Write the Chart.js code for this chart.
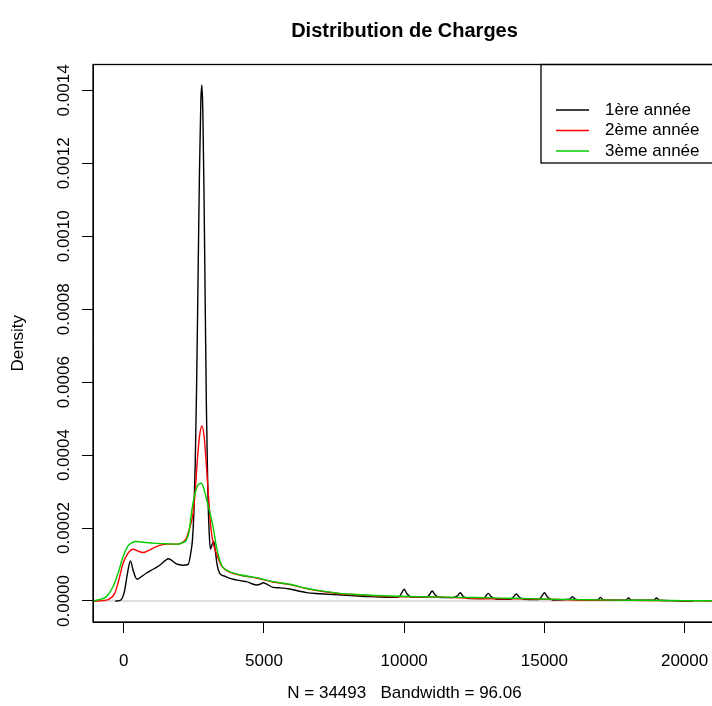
<!DOCTYPE html>
<html>
<head>
<meta charset="utf-8" />
<title>Distribution de Charges</title>
<style>
  body { margin: 0; overflow: hidden; background: #fff; }
  #wrap { width: 720px; height: 706px; }
</style>
<script src="https://cdn.jsdelivr.net/npm/chart.js"></script>
</head>
<body>
<div id="wrap"><canvas id="chartDensity" width="720" height="706"></canvas></div>
<script>
// series (charges -> density)
const seriesNames = ['1ère année', '2ème année', '3ème année'];
const seriesColors = ['#000000', '#FF0000', '#00CD00'];

const charges1 = [-300, -150, -50, 36, 100, 155, 239, 333, 420, 488, 600, 800, 1000, 1166, 1350, 1500, 1582, 1700, 1850, 1939, 2100, 2296, 2400, 2450, 2500, 2550, 2600, 2650, 2700, 2750, 2785, 2820, 2860, 2900, 2950, 3000, 3050, 3093, 3150, 3211, 3270, 3330, 3425, 3600, 3782, 4000, 4200, 4377, 4550, 4734, 4860, 4971, 5100, 5328, 5600, 5922, 6200, 6517, 7000, 7706, 8500, 9490, 9800, 9900, 10000, 10100, 10250, 10500, 10800, 10900, 11000, 11100, 11300, 11700, 11900, 12000, 12100, 12300, 12800, 12900, 13000, 13100, 13300, 13800, 13900, 14000, 14100, 14300, 14800, 14900, 15000, 15100, 15300, 15900, 16000, 16100, 16400, 16900, 17000, 17100, 17900, 18000, 18100, 18900, 19000, 19100, 19500, 20000, 20300];
const density1 = [0, 0.000001, 0.000008, 0.00003, 0.00006, 0.000085, 0.00011, 0.000085, 0.000065, 0.0000595, 0.000065, 0.000076, 0.000085, 0.000092, 0.000102, 0.000112, 0.000116, 0.000112, 0.000103, 0.0001005, 0.000098, 0.0001, 0.000136, 0.000167, 0.000238, 0.000374, 0.000593, 0.000878, 0.00117, 0.00137, 0.001415, 0.00135, 0.00114, 0.00086, 0.000525, 0.0003, 0.000185, 0.000142, 0.000155, 0.000163, 0.000135, 0.0001, 0.000076, 0.000068, 0.000062, 0.000058, 0.000055, 0.000053, 0.000048, 0.000044, 0.000046, 0.00005, 0.000046, 0.0000375, 0.000036, 0.000033, 0.000028, 0.000023, 0.00002, 0.0000165, 0.000013, 0.00001, 0.000011, 0.00002, 0.000032, 0.00002, 0.000011, 0.000011, 0.00001, 0.000017, 0.0000274, 0.000017, 0.0000095, 0.0000092, 0.000014, 0.0000228, 0.000013, 0.0000065, 0.0000064, 0.000012, 0.000021, 0.000012, 0.0000048, 0.0000046, 0.000011, 0.0000192, 0.000011, 0.0000045, 0.000004, 0.000012, 0.0000228, 0.000012, 0.0000027, 0.000005, 0.0000118, 0.000005, 0.000002, 0.000003, 0.00001, 0.000003, 0.000002, 0.0000082, 0.000002, 0.000002, 0.0000082, 0.000002, 0.000001, 0, 0];

const charges2 = [-1100, -900, -737, -500, -321, -200, -24, 155, 333, 500, 690, 900, 1166, 1522, 1940, 2100, 2235, 2350, 2473, 2550, 2620, 2700, 2790, 2870, 2950, 3030, 3110, 3187, 3306, 3484, 3662, 4138, 4734, 5328, 5922, 6517, 7111, 7706, 8300, 9490, 10500, 11500, 12500, 13500, 14500, 15500, 16500, 17500, 18500, 19500, 20500, 21200];
const density2 = [0, 0, 0.000001, 0.000006, 0.000021, 0.00005, 0.000103, 0.000131, 0.000142, 0.000137, 0.000133, 0.000139, 0.000149, 0.000156, 0.000156, 0.000161, 0.000172, 0.0002, 0.00024, 0.0003, 0.00038, 0.00045, 0.00048, 0.00045, 0.00037, 0.00028, 0.0002, 0.00016, 0.00013, 0.000097, 0.000084, 0.000071, 0.000063, 0.000052, 0.000045, 0.000034, 0.000026, 0.00002, 0.000017, 0.000012, 0.000011, 0.00001, 0.000007, 0.000006, 0.0000055, 0.000004, 0.000002, 0.000002, 0.0000015, 0.000001, 0.0000005, 0];

const charges3 = [-1100, -975, -618, -381, -202, -24, 155, 300, 452, 700, 1000, 1166, 1500, 1940, 2100, 2235, 2330, 2414, 2500, 2600, 2700, 2771, 2850, 2950, 3050, 3187, 3306, 3484, 3662, 4138, 4734, 5328, 5922, 6517, 7111, 7706, 8300, 9490, 10500, 11500, 12500, 13500, 14500, 15500, 16500, 17500, 18500, 19500, 20500, 21200];
const density3 = [0, 0.000002, 0.000012, 0.000039, 0.000076, 0.000121, 0.000151, 0.00016, 0.000163, 0.000161, 0.000159, 0.000158, 0.000157, 0.000156, 0.00016, 0.000167, 0.00019, 0.00024, 0.00028, 0.00031, 0.000322, 0.000323, 0.00031, 0.00028, 0.00025, 0.000204, 0.000149, 0.0000987, 0.000085, 0.000072, 0.000064, 0.000053, 0.000046, 0.000035, 0.000027, 0.000021, 0.000018, 0.0000137, 0.000012, 0.0000105, 0.0000095, 0.000008, 0.0000065, 0.0000045, 0.0000035, 0.0000025, 0.000002, 0.0000015, 0.0000008, 0.0000005];

const xTicks = [0, 5000, 10000, 15000, 20000];
const yTicks = [0, 0.0002, 0.0004, 0.0006, 0.0008, 0.0010, 0.0012, 0.0014];

const FONT = '"Liberation Sans", Arial, Helvetica, sans-serif';

function toPoints(xs, ys) {
    return xs.map((x, i) => ({ x: x, y: ys[i] }));
}

// R-style frame, zero line, rotated y labels, title and legend
const rFrame = {
    id: 'rFrame',
    beforeDatasetsDraw(chart) {
        const { ctx, chartArea: a, scales: { y } } = chart;
        const y0 = y.getPixelForValue(0);
        ctx.save();
        ctx.strokeStyle = '#BEBEBE';
        ctx.lineWidth = 1;
        ctx.beginPath();
        ctx.moveTo(a.left, y0);
        ctx.lineTo(a.right, y0);
        ctx.stroke();
        ctx.restore();
    },
    afterDraw(chart) {
        const { ctx, chartArea: a, scales: { y } } = chart;
        ctx.save();
        ctx.strokeStyle = '#000';
        ctx.lineWidth = 1.3;
        ctx.strokeRect(a.left, a.top, a.right - a.left, a.bottom - a.top);

        // y tick labels, parallel to the axis
        ctx.fillStyle = '#000';
        ctx.font = '17px ' + FONT;
        ctx.textAlign = 'center';
        ctx.textBaseline = 'middle';
        yTicks.forEach(v => {
            ctx.save();
            ctx.translate(64, y.getPixelForValue(v));
            ctx.rotate(-Math.PI / 2);
            ctx.fillText(v.toFixed(4), 0, 0);
            ctx.restore();
        });

        // main title
        ctx.font = 'bold 20px ' + FONT;
        ctx.fillText('Distribution de Charges', (a.left + a.right) / 2, 31);

        // legend, top right
        const lx = 541, lb = 163;
        ctx.strokeRect(lx, a.top, a.right - lx, lb - a.top);
        ctx.font = '17px ' + FONT;
        ctx.textAlign = 'left';
        const rows = [110, 130.5, 151];
        seriesNames.forEach((name, i) => {
            ctx.strokeStyle = seriesColors[i];
            ctx.lineWidth = 1.4;
            ctx.beginPath();
            ctx.moveTo(556, rows[i]);
            ctx.lineTo(589, rows[i]);
            ctx.stroke();
            ctx.fillText(name, 605, rows[i]);
        });
        ctx.restore();
    }
};

const allCharges = [charges1, charges2, charges3];
const allDensity = [density1, density2, density3];

new Chart(document.getElementById('chartDensity'), {
    type: 'line',
    data: {
        datasets: seriesNames.map((name, i) => ({
            label: name,
            data: toPoints(allCharges[i], allDensity[i]),
            borderColor: seriesColors[i],
            borderWidth: 1.4,
            pointRadius: 0,
            cubicInterpolationMode: 'monotone',
            fill: false,
            order: 3 - i
        }))
    },
    options: {
        responsive: false,
        animation: false,
        layout: { padding: { left: 0, top: 64.5, right: 4, bottom: 0 } },
        scales: {
            x: {
                type: 'linear',
                min: -1095,
                max: 21120,
                afterBuildTicks: s => { s.ticks = xTicks.map(v => ({ value: v })); },
                afterFit: s => { s.height = 84; s.paddingLeft = 0; s.paddingRight = 0; },
                grid: { drawOnChartArea: false, drawTicks: true, tickLength: 11, color: '#000', lineWidth: 1 },
                border: { display: true, color: '#000', width: 1 },
                ticks: { color: '#000', font: { family: FONT, size: 17 }, padding: 18, maxRotation: 0, callback: v => String(v) },
                title: {
                    display: true,
                    text: 'N = 34493   Bandwidth = 96.06',
                    color: '#000',
                    font: { family: FONT, size: 17 },
                    padding: { top: 0, bottom: 2 }
                }
            },
            y: {
                min: -0.0000576,
                max: 0.001471,
                afterBuildTicks: s => { s.ticks = yTicks.map(v => ({ value: v })); },
                afterFit: s => { s.width = 93; s.paddingTop = 0; s.paddingBottom = 0; },
                grid: { drawOnChartArea: false, drawTicks: true, tickLength: 11, color: '#000', lineWidth: 1 },
                border: { display: true, color: '#000', width: 1 },
                ticks: { display: false },
                title: {
                    display: true,
                    text: 'Density',
                    color: '#000',
                    font: { family: FONT, size: 17 },
                    padding: { top: 8, bottom: 0 }
                }
            }
        },
        plugins: {
            legend: { display: false },
            title: { display: false },
            tooltip: { enabled: false }
        }
    },
    plugins: [rFrame]
});
</script>
</body>
</html>
